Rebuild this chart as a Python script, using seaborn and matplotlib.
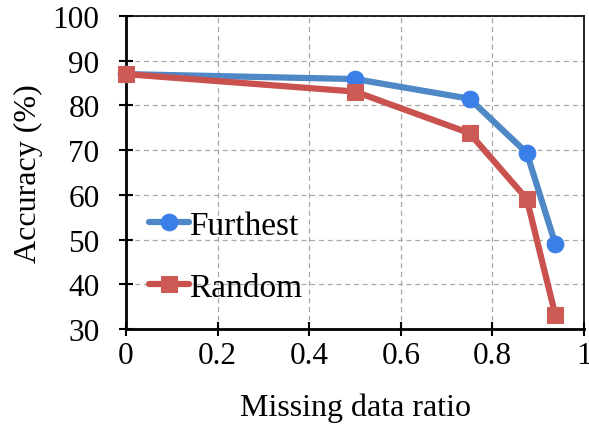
import matplotlib
matplotlib.use("Agg")
import matplotlib.pyplot as plt
import seaborn as sns
import pandas as pd

# Accuracy versus fraction of missing data, for two selection strategies
missing_ratio = [0.0, 0.5, 0.75, 0.875, 0.9375]
furthest_acc = [87.0, 85.9, 81.5, 69.4, 49.0]
random_acc = [87.0, 83.1, 73.8, 59.1, 33.1]
series_names = ["Furthest", "Random"]
x_ticks = [0, 0.2, 0.4, 0.6, 0.8, 1]
x_tick_labels = ["0", "0.2", "0.4", "0.6", "0.8", "1"]
y_ticks = [30, 40, 50, 60, 70, 80, 90, 100]

df = pd.DataFrame({
    "ratio": missing_ratio * 2,
    "acc": furthest_acc + random_acc,
    "method": [series_names[0]] * len(missing_ratio) + [series_names[1]] * len(missing_ratio),
})

sns.set_style("white")
plt.rcParams["font.family"] = ["Liberation Serif", "DejaVu Serif"]
plt.rcParams["text.color"] = "black"
plt.rcParams["axes.labelcolor"] = "black"

fig = plt.figure(figsize=(5.89, 4.35), dpi=100)
ax = fig.add_axes([126 / 589, 1 - 330 / 435, (584 - 126) / 589, (330 - 17) / 435])

line_colors = {"Furthest": "#4f88c6", "Random": "#c9524f"}
marker_colors = {"Furthest": "#3a7ee8", "Random": "#cd5a55"}
markers = {"Furthest": "o", "Random": "s"}

for name in series_names:
    sub = df[df["method"] == name]
    sns.lineplot(data=sub, x="ratio", y="acc", ax=ax, color=line_colors[name],
                 linewidth=4.5, marker=markers[name], markersize=12 if name == "Furthest" else 11,
                 markerfacecolor=marker_colors[name], markeredgecolor=marker_colors[name],
                 label=name, zorder=3 if name == "Furthest" else 4, clip_on=False)

ax.set_xlim(0, 1)
ax.set_ylim(30, 100)
ax.set_xticks(x_ticks)
ax.set_xticklabels(x_tick_labels)
ax.set_yticks(y_ticks)
ax.grid(True, color="#a8a8a8", linestyle=(0, (4, 3)), linewidth=0.9)
ax.set_axisbelow(True)

for side in ["left", "bottom", "top", "right"]:
    ax.spines[side].set_visible(True)
    ax.spines[side].set_color("black")
ax.spines["left"].set_linewidth(2.0)
ax.spines["bottom"].set_linewidth(2.0)
ax.spines["top"].set_linewidth(1.2)
ax.spines["right"].set_linewidth(1.2)

ax.tick_params(axis="both", which="major", direction="inout", length=10, width=1.5,
               labelsize=22.5, colors="black")
ax.tick_params(axis="x", pad=4)
ax.tick_params(axis="y", pad=14)
ax.tick_params(top=False, right=False, bottom=True, left=True)

ax.set_xlabel("Missing data ratio", fontsize=23, labelpad=16)
ax.set_ylabel("Accuracy (%)", fontsize=23, labelpad=7)

leg = ax.legend(loc="lower left", bbox_to_anchor=(0.0, 0.008), frameon=False,
                fontsize=24, handlelength=1.2, handletextpad=0.0, labelspacing=0.95,
                borderaxespad=0.3)

fig.savefig("out.png", dpi=100)
